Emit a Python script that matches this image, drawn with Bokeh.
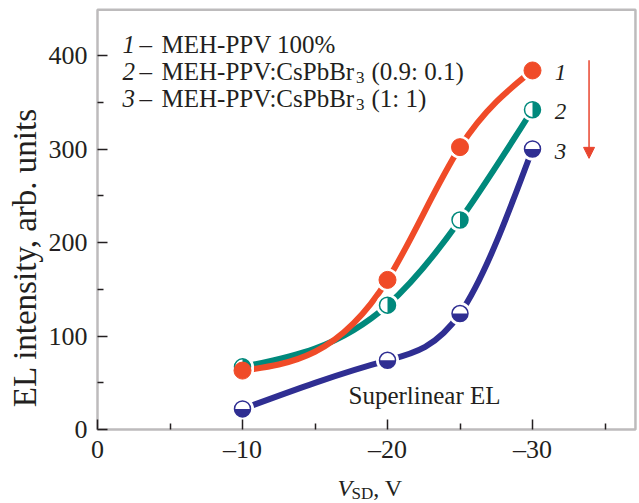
import numpy as np
from bokeh.plotting import figure
from bokeh.models import Range1d, FixedTicker, Label, Arrow, NormalHead, BoxAnnotation
from bokeh.core.properties import value
from bokeh.embed import file_html
from bokeh.resources import INLINE

# ---------------- data ----------------
v_sd = [-10, -20, -25, -30]
el_1 = [63, 160, 302, 384]      # MEH-PPV 100%
el_2 = [67, 133, 224, 342]      # MEH-PPV:CsPbBr3 (0.9:0.1)
el_3 = [22, 74, 124, 300]       # MEH-PPV:CsPbBr3 (1:1)
series_names = ["1", "2", "3"]
x_ticks = [0, -10, -20, -30]
x_tick_labels = ["0", "\u201310", "\u201320", "\u201330"]
x_minor = [-5, -15, -25, -35]
y_ticks = [0, 100, 200, 300, 400]
y_tick_labels = ["0", "100", "200", "300", "400"]
y_minor = [50, 150, 250, 350]
x_box = (0, -37.1)      # plotted box extent (V)
y_box = (0, 449)        # plotted box extent (arb. units)

# ---------------- style ----------------
RED = "#F04B28"
TEAL = "#00897C"
BLUE = "#2F2E92"
ARROW = "#E9452E"
INK = "#231F20"
FONT = "Liberation Serif"

W, H = 639, 503
X0_PX, XS = 97, 14.5      # pixel of V=0, pixels per volt
Y0_PX, YS = 429, 0.935    # pixel of EL=0, pixels per unit

p = figure(width=W, height=H, output_backend="svg", toolbar_location=None,
           x_range=Range1d(X0_PX / XS, -(W - X0_PX) / XS),
           y_range=Range1d(-(H - Y0_PX) / YS, Y0_PX / YS),
           min_border=0, min_border_left=0, min_border_right=0,
           min_border_top=0, min_border_bottom=0)
p.xgrid.visible = False
p.ygrid.visible = False
p.outline_line_color = None
p.background_fill_color = "white"
p.border_fill_color = "white"

p.xaxis.ticker = FixedTicker(ticks=x_ticks, minor_ticks=x_minor)
p.xaxis.major_label_overrides = {t: l for t, l in zip(x_ticks, x_tick_labels)}
p.yaxis.ticker = FixedTicker(ticks=y_ticks, minor_ticks=y_minor)
p.yaxis.major_label_overrides = {t: l for t, l in zip(y_ticks, y_tick_labels)}
for ax in (p.xaxis[0], p.yaxis[0]):
    ax.fixed_location = 0
    ax.axis_line_color = None
    ax.major_tick_line_color = INK
    ax.minor_tick_line_color = INK
    ax.major_tick_line_width = 1.5
    ax.minor_tick_line_width = 1.5
    ax.major_tick_in = 10
    ax.major_tick_out = 0
    ax.minor_tick_in = 6
    ax.minor_tick_out = 0
    ax.major_label_text_font = FONT
    ax.major_label_text_font_size = "26px"
    ax.major_label_text_color = INK
p.xaxis.major_label_standoff = 5
p.yaxis.major_label_standoff = 10

# plot box (frame lines)
p.add_layout(BoxAnnotation(left=x_box[0], right=x_box[1], bottom=y_box[0], top=y_box[1],
                           fill_color=None, fill_alpha=0, line_color=INK, line_width=2.5))


# ---------- smooth curve (natural cubic spline drawn as bezier) ----------
def spline_beziers(xs, ys):
    x = np.asarray(xs, float)
    y = np.asarray(ys, float)
    n = len(x)
    h = np.diff(x)
    d = np.diff(y) / h
    A = np.zeros((n, n))
    b = np.zeros(n)
    A[0, 0] = 1
    A[-1, -1] = 1
    for i in range(1, n - 1):
        A[i, i - 1] = h[i - 1]
        A[i, i] = 2 * (h[i - 1] + h[i])
        A[i, i + 1] = h[i]
        b[i] = 6 * (d[i] - d[i - 1])
    M = np.linalg.solve(A, b)
    slope = np.zeros(n)
    for i in range(n - 1):
        slope[i] = d[i] - h[i] * (2 * M[i] + M[i + 1]) / 6
    slope[-1] = d[-1] + h[-1] * (M[-2] + 2 * M[-1]) / 6
    return dict(x0=x[:-1], y0=y[:-1], x1=x[1:], y1=y[1:],
                cx0=x[:-1] + h / 3, cy0=y[:-1] + slope[:-1] * h / 3,
                cx1=x[1:] - h / 3, cy1=y[1:] - slope[1:] * h / 3)


for ys, col in ((el_2, TEAL), (el_1, RED), (el_3, BLUE)):
    p.bezier(line_color=col, line_width=6, line_cap="round", **spline_beziers(v_sd, ys))

# white halos around markers
for ys in (el_2, el_1, el_3):
    p.scatter(v_sd, ys, size=23, marker="circle", fill_color="white", line_color=None)

# series 2: circles with right half filled
p.scatter(v_sd, el_2, size=16, marker="circle", fill_color="white", line_color=TEAL, line_width=1.5)
p.wedge(v_sd, el_2, radius=8, radius_units="screen", start_angle=-np.pi / 2,
        end_angle=np.pi / 2, fill_color=TEAL, line_color=None)
# series 1: filled circles
p.scatter(v_sd, el_1, size=17, marker="circle", fill_color=RED, line_color=RED)
# series 3: circles with bottom half filled
p.scatter(v_sd, el_3, size=16, marker="circle", fill_color="white", line_color=BLUE, line_width=1.5)
p.wedge(v_sd, el_3, radius=8, radius_units="screen", start_angle=np.pi,
        end_angle=2 * np.pi, fill_color=BLUE, line_color=None)

# series number labels next to the last points
for ys, name in zip((el_1, el_2, el_3), series_names):
    p.text(x=[v_sd[-1]], y=[ys[-1]], text=[name], x_offset=28, y_offset=2,
           text_font=value(FONT), text_font_style="italic", text_font_size="23px",
           text_color=INK, text_align="center", text_baseline="middle")

# arrow
p.add_layout(Arrow(x_start=-33.9, y_start=395, x_end=-33.9, y_end=290,
                   line_color=ARROW, line_width=1.5,
                   end=NormalHead(size=11, fill_color=ARROW, line_color=ARROW)))

# ---------------- texts ----------------
TW = {" ": 250, "M": 889, "E": 611, "H": 722, "-": 333, "P": 556, "V": 722,
      ":": 278, "C": 667, "s": 389, "b": 500, "B": 667, "r": 333, "(": 333,
      ")": 333, ".": 250, "%": 833, "\u2013": 500, "S": 556, "D": 722, ",": 250}
BASE_FIX = 8   # alphabetic labels render this many px lower than requested


def tw(s, size):
    return sum(TW.get(c, 500) for c in s) * size / 1000.0


def lab(text, px, py, size, style="normal", align="left", baseline="alphabetic", angle=0.0):
    if baseline == "alphabetic":
        py -= BASE_FIX
    p.add_layout(Label(x=px, y=H - py, x_units="screen", y_units="screen",
                       text=text, text_font=FONT, text_font_size=f"{size}px",
                       text_font_style=style, text_color=INK, text_align=align,
                       text_baseline=baseline, angle=angle))


LEG = 25
SUB = 17
legend_rows = [("1", "MEH-PPV 100%", None, 52),
               ("2", "MEH-PPV:CsPbBr", "(0.9: 0.1)", 79),
               ("3", "MEH-PPV:CsPbBr", "(1: 1)", 106)]
for num, main, tail, base in legend_rows:
    lab(num, 122, base, LEG, style="italic")
    lab("\u2013", 139, base, LEG)
    lab(main, 161, base, LEG)
    if tail is not None:
        xs = 161 + tw(main, LEG)
        lab("3", xs, base + 6, SUB)
        lab(tail, xs + tw("3", SUB) + 7, base, LEG)

lab("Superlinear EL", 348, 403, 25)

# x axis label: V_SD, V
xb = 495
lab("V", 337, xb, 24, style="italic")
lab("SD", 351, xb + 6, SUB)
lab(", V", 351 + tw("SD", SUB), xb, 24)

# y axis label
lab("EL intensity, arb. units", 24, 257, 33, align="center", baseline="middle", angle=np.pi / 2)

open("out.html", "w").write(file_html(p, INLINE))
